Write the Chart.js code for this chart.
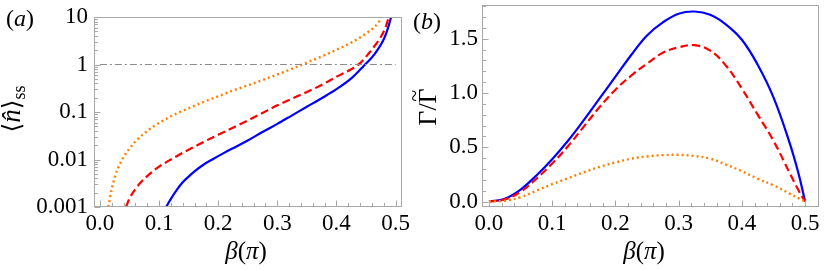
<!DOCTYPE html>
<html>
<head>
<meta charset="utf-8">
<script src="https://cdn.jsdelivr.net/npm/chart.js@4.4.0/dist/chart.umd.min.js"></script>
<style>
  body { margin: 0; background: #fff; }
  #wrap { position: relative; width: 830px; height: 271px; }
  #wrap canvas { position: absolute; top: 0; }
</style>
</head>
<body>
<div id="wrap">
  <canvas id="pa" width="410" height="271" style="left:0"></canvas>
  <canvas id="pb" width="420" height="271" style="left:410px"></canvas>
</div>
<script>
// ─── DATA ───────────────────────────────────────────────
// panel (a): steady-state occupation <n>_ss vs beta (units of pi), log axis
const betaA_dotted = [0.0143, 0.02, 0.025, 0.03, 0.04, 0.05, 0.06, 0.075, 0.09, 0.11, 0.13, 0.15, 0.175, 0.2, 0.225, 0.25, 0.275, 0.3, 0.325, 0.35, 0.375, 0.4, 0.425, 0.45, 0.465, 0.475];
const nA_dotted    = [0.001, 0.0024, 0.00417, 0.0063, 0.0112, 0.017, 0.024, 0.0355, 0.049, 0.0692, 0.0933, 0.12, 0.162, 0.214, 0.282, 0.363, 0.468, 0.617, 0.813, 1.1, 1.48, 2.04, 2.88, 4.47, 6.31, 8.91];

const betaA_dashed = [0.044, 0.05, 0.06, 0.07, 0.08, 0.09, 0.1, 0.12, 0.14, 0.16, 0.18, 0.2, 0.225, 0.25, 0.275, 0.3, 0.325, 0.35, 0.375, 0.4, 0.425, 0.44, 0.455, 0.465, 0.475, 0.483, 0.4885];
const nA_dashed    = [0.001, 0.00151, 0.0024, 0.00339, 0.00447, 0.00575, 0.00708, 0.01, 0.0138, 0.0186, 0.0251, 0.0331, 0.0468, 0.0661, 0.0955, 0.138, 0.191, 0.263, 0.372, 0.55, 0.794, 1.07, 1.74, 2.51, 3.8, 6.03, 10];

const betaA_solid  = [0.112, 0.12, 0.13, 0.14, 0.15, 0.16, 0.175, 0.19, 0.21, 0.23, 0.25, 0.275, 0.3, 0.325, 0.35, 0.375, 0.4, 0.425, 0.45, 0.46, 0.47, 0.48, 0.487, 0.4925];
const nA_solid     = [0.001, 0.00148, 0.00229, 0.00331, 0.00437, 0.00562, 0.00776, 0.01, 0.0138, 0.0186, 0.0251, 0.038, 0.0562, 0.0851, 0.129, 0.195, 0.302, 0.51, 1.05, 1.41, 2.09, 3.39, 5.75, 10];

const refLineX = [0, 0.5];
const refLineY = [1, 1];

// panel (b): rate Gamma / Gamma~ vs beta
const betaB = [0, 0.025, 0.05, 0.075, 0.1, 0.125, 0.15, 0.175, 0.2, 0.225, 0.25, 0.275, 0.3, 0.325, 0.35, 0.375, 0.4, 0.425, 0.45, 0.475, 0.49, 0.5];
const rateB_solid  = [0, 0.025, 0.11, 0.24, 0.39, 0.56, 0.75, 0.95, 1.15, 1.35, 1.53, 1.65, 1.73, 1.75, 1.72, 1.63, 1.49, 1.26, 0.96, 0.55, 0.25, 0];
const rateB_dashed = [0, 0.02, 0.09, 0.21, 0.35, 0.51, 0.69, 0.87, 1.03, 1.16, 1.27, 1.37, 1.42, 1.44, 1.39, 1.25, 1.04, 0.8, 0.56, 0.27, 0.1, 0];
const rateB_dotted = [0, 0.008, 0.04, 0.1, 0.16, 0.215, 0.27, 0.32, 0.36, 0.395, 0.415, 0.428, 0.43, 0.42, 0.395, 0.34, 0.28, 0.21, 0.15, 0.075, 0.03, 0];

const betaTicks = [0, 0.1, 0.2, 0.3, 0.4, 0.5];
const nTicks    = [0.001, 0.01, 0.1, 1, 10];
const rateTicks = [0, 0.5, 1, 1.5];

// ─── HELPERS ───────────────────────────────────────────────
const FONT = "'Liberation Serif', 'DejaVu Serif', serif";
const FRAME = '#a8a8a8';
const zip = (xs, ys) => xs.map((x, i) => ({ x, y: ys[i] }));

function richText(ctx, parts, x, y) {
  // parts: [{t, italic, size, dy}] drawn left to right, centred on x
  const w = parts.map(p => {
    ctx.font = `${p.italic ? 'italic ' : ''}${p.size}px ${FONT}`;
    return ctx.measureText(p.t).width;
  });
  let cx = x - w.reduce((a, b) => a + b, 0) / 2;
  const pos = [];
  parts.forEach((p, i) => {
    ctx.font = `${p.italic ? 'italic ' : ''}${p.size}px ${FONT}`;
    ctx.fillText(p.t, cx, y + (p.dy || 0));
    pos.push(cx + w[i] / 2);
    cx += w[i];
  });
  return pos;
}

function frameTicks(cfg) {
  return {
    id: 'frameTicks',
    afterDatasetsDraw(chart) {
      const { ctx, chartArea: a, scales: { x, y } } = chart;
      ctx.save();
      ctx.strokeStyle = FRAME;
      ctx.lineWidth = 1;
      ctx.strokeRect(Math.round(a.left) + 0.5, Math.round(a.top) + 0.5,
        Math.round(a.right - a.left) - 1, Math.round(a.bottom - a.top) - 1);
      ctx.beginPath();
      const b = Math.round(a.bottom) - 0.5, l = Math.round(a.left) + 0.5;
      cfg.xMajor.forEach(v => { const p = Math.round(x.getPixelForValue(v)) + 0.5; ctx.moveTo(p, b); ctx.lineTo(p, b - 6); });
      cfg.xMinor.forEach(v => { const p = Math.round(x.getPixelForValue(v)) + 0.5; ctx.moveTo(p, b); ctx.lineTo(p, b - 3.5); });
      cfg.yMajor.forEach(v => { const p = Math.round(y.getPixelForValue(v)) + 0.5; ctx.moveTo(l, p); ctx.lineTo(l + 6, p); });
      cfg.yMinor.forEach(v => { const p = Math.round(y.getPixelForValue(v)) + 0.5; if (p > a.top + 1 && p < a.bottom - 1) { ctx.moveTo(l, p); ctx.lineTo(l + 3.5, p); } });
      ctx.stroke();
      ctx.restore();
    },
    afterDraw(chart) {
      const ctx = chart.ctx;
      ctx.save();
      ctx.fillStyle = '#000';
      ctx.textBaseline = 'alphabetic';
      cfg.titles(ctx);
      ctx.restore();
    }
  };
}

function minorSteps(lo, hi, step, skip) {
  const out = [];
  for (let i = Math.round(lo / step); i * step <= hi + 1e-9; i++) {
    if (i % skip !== 0) out.push(+(i * step).toFixed(4));
  }
  return out;
}

const logMinor = [];
[0.001, 0.01, 0.1, 1].forEach(d => { for (let k = 2; k <= 9; k++) logMinor.push(d * k); });

const tickFont = { family: FONT, size: 23 };
const noPad = s => { s.paddingTop = 0; s.paddingBottom = 0; s.paddingLeft = 0; s.paddingRight = 0; };

function xScale(min, max) {
  return {
    type: 'linear', min, max,
    grid: { display: false, drawTicks: false }, border: { display: false },
    afterBuildTicks: s => { s.ticks = betaTicks.map(v => ({ value: v })); },
    afterFit: s => { s.height = 64; noPad(s); },
    ticks: { font: tickFont, color: '#000', padding: 3, maxRotation: 0, autoSkip: false,
             callback: v => Number(v).toFixed(1) }
  };
}

const baseOptions = (pad, curve) => ({
  responsive: false, animation: false, events: [],
  layout: { padding: pad },
  elements: { point: { radius: 0 }, line: curve },
  plugins: { legend: { display: false }, tooltip: { enabled: false } }
});

const betaTitle = [{ t: 'β', italic: true, size: 25 }, { t: '(', size: 25 }, { t: 'π', italic: true, size: 25 }, { t: ')', size: 25 }];

// ─── PANEL (a) ───────────────────────────────────────────────
const optA = baseOptions({ top: 17, right: 8.5, left: 0, bottom: 0 }, { cubicInterpolationMode: 'monotone', fill: false });
optA.scales = {
  x: xScale(-0.01, 0.51),
  y: {
    type: 'logarithmic', min: 0.001, max: 10,
    grid: { display: false, drawTicks: false }, border: { display: false },
    afterBuildTicks: s => { s.ticks = nTicks.map(v => ({ value: v })); },
    afterFit: s => { s.width = 94; noPad(s); },
    ticks: { font: tickFont, color: '#000', padding: 6, autoSkip: false, callback: v => String(v) }
  }
};

new Chart(document.getElementById('pa'), {
  type: 'line',
  data: {
    datasets: [
      { data: zip(refLineX, refLineY), borderColor: '#8c8c8c', borderWidth: 1, borderDash: [7, 3, 2, 3], cubicInterpolationMode: 'default', tension: 0 },
      { data: zip(betaA_dotted, nA_dotted), borderColor: '#ff8000', borderWidth: 2.4, borderDash: [2, 3] },
      { data: zip(betaA_dashed, nA_dashed), borderColor: '#ff0000', borderWidth: 2.2, borderDash: [8, 4] },
      { data: zip(betaA_solid, nA_solid), borderColor: '#0000ff', borderWidth: 2.2 }
    ]
  },
  options: optA,
  plugins: [frameTicks({
    xMajor: betaTicks, xMinor: minorSteps(0, 0.5, 0.02, 5),
    yMajor: nTicks, yMinor: logMinor,
    titles: ctx => {
      richText(ctx, [{ t: '(', size: 24 }, { t: 'a', italic: true, size: 24 }, { t: ')', size: 24 }], 20, 26);
      richText(ctx, betaTitle, 246, 259);
      ctx.save();
      ctx.translate(20, 109);
      ctx.rotate(-Math.PI / 2);
      richText(ctx, [{ t: '⟨', size: 25 }, { t: 'n\u0302', italic: true, size: 27 }, { t: '⟩', size: 25 }, { t: 'ss', size: 18, dy: 5 }], 0, 0);
      ctx.restore();
    }
  })]
});

// ─── PANEL (b) ───────────────────────────────────────────────
const optB = baseOptions({ top: 5, right: 11, left: 0, bottom: 0 }, { cubicInterpolationMode: 'default', tension: 0.4, fill: false });
optB.scales = {
  x: xScale(-0.011, 0.522),
  y: {
    type: 'linear', min: -0.05, max: 1.81,
    grid: { display: false, drawTicks: false }, border: { display: false },
    afterBuildTicks: s => { s.ticks = rateTicks.map(v => ({ value: v })); },
    afterFit: s => { s.width = 72; noPad(s); },
    ticks: { font: tickFont, color: '#000', padding: 4, autoSkip: false, callback: v => Number(v).toFixed(1) }
  }
};

new Chart(document.getElementById('pb'), {
  type: 'line',
  data: {
    datasets: [
      { data: zip(betaB, rateB_dotted), borderColor: '#ff8000', borderWidth: 2.4, borderDash: [2, 3] },
      { data: zip(betaB, rateB_dashed), borderColor: '#ff0000', borderWidth: 2.2, borderDash: [8, 4] },
      { data: zip(betaB, rateB_solid), borderColor: '#0000ff', borderWidth: 2.2 }
    ]
  },
  options: optB,
  plugins: [frameTicks({
    xMajor: betaTicks, xMinor: minorSteps(0, 0.5, 0.02, 5),
    yMajor: rateTicks, yMinor: minorSteps(0, 1.8, 0.1, 5),
    titles: ctx => {
      richText(ctx, [{ t: '(', size: 24 }, { t: 'b', italic: true, size: 24 }, { t: ')', size: 24 }], 17, 29);
      richText(ctx, betaTitle, 234, 259);
      ctx.save();
      ctx.translate(26, 107);
      ctx.rotate(-Math.PI / 2);
      const pos = richText(ctx, [{ t: 'Γ', size: 26 }, { t: '/', size: 26 }, { t: 'Γ', size: 26 }], 0, 0);
      ctx.font = `22px ${FONT}`;
      ctx.textAlign = 'center';
      ctx.fillText('~', pos[2], -15);
      ctx.restore();
    }
  })]
});
</script>
</body>
</html>
